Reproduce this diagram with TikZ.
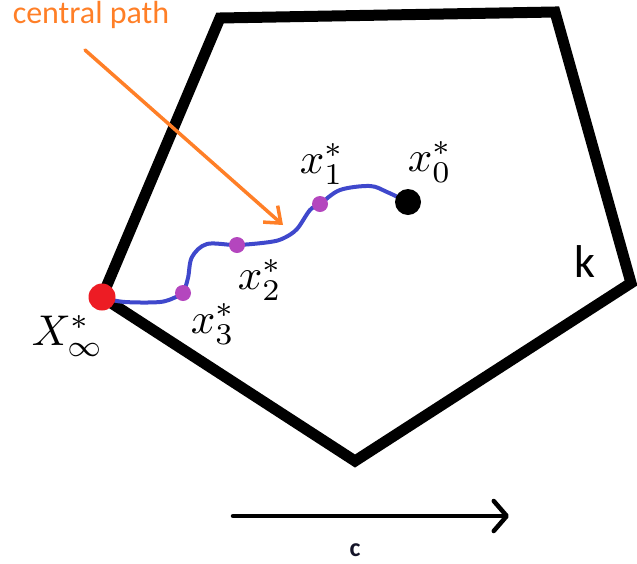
\documentclass[tikz,border=0pt]{standalone}
\usepackage{graphicx}
\usepackage{fontspec}
\setmainfont{Carlito}
\usetikzlibrary{arrows.meta}
\definecolor{corange}{RGB}{255,127,39}
\definecolor{cblue}{RGB}{63,72,204}
\definecolor{cpurple}{RGB}{180,70,190}
\definecolor{cred}{RGB}{237,28,36}
\definecolor{cdark}{RGB}{20,20,40}
\newcommand{\handlbl}[1]{\scalebox{4.3}{$#1$}}
\tikzset{
  poly/.style={line width=11pt, line join=miter, draw=black},
  dot/.style={circle, inner sep=0pt, minimum size=#1},
  hand/.style={inner sep=0pt},
}
\begin{document}
\begin{tikzpicture}[x=1pt,y=-1pt]
\useasboundingbox (0,0) rectangle (637,563);
% polygon
\coordinate (p1) at (220,18);
\coordinate (p2) at (555,12);
\coordinate (p3) at (631,283);
\coordinate (p4) at (355,461);
\coordinate (p5) at (102,297);
\draw[poly] (p1) -- (p2) -- (p3) -- (p4) -- (p5) -- cycle;
% central path
\draw[cblue, line width=4pt, line cap=round]
  plot[smooth, tension=0.55] coordinates {(102,298) (125,302) (160,302) (176,297) (183,293) (188,278) (192,257) (207,244) (237,245) (270,242) (284,238) (297,229) (310,210) (320,204) (340,190) (370,186) (387,192) (408,202)};
\node[dot=27pt, fill=cred] (xinf) at (102,297) {};
\node[dot=16pt, fill=cpurple] (x3) at (183,293) {};
\node[dot=16pt, fill=cpurple] (x2) at (237,245) {};
\node[dot=16pt, fill=cpurple] (x1) at (320,204) {};
\node[dot=26pt, fill=black] (x0) at (408,202) {};
% labels
\node[hand] (lx0) at (430,162) {\handlbl{x_0^*}};
\node[hand] (lx1) at (322,164) {\handlbl{x_1^*}};
\node[hand] (lx2) at (260,280) {\handlbl{x_2^*}};
\node[hand] (lx3) at (213,324) {\handlbl{x_3^*}};
\node[hand] (lxinf) at (68,336) {\handlbl{X_\infty^*}};
\node[font=\fontsize{46}{50}\selectfont, inner sep=0pt] (k) at (585,262) {k};
% central path label and arrow
\node[font=\fontsize{32}{36}\selectfont, text=corange, inner sep=0pt] (cp) at (91,15) {central path};
\coordinate (a0) at (85,50);
\coordinate (a1) at (283,225);
\draw[corange, line width=3.5pt, line cap=round, -{Straight Barb[length=14pt,width=22pt,line width=3.5pt]}] (a0) -- (a1);
% objective direction
\coordinate (c0) at (233,516);
\coordinate (c1) at (509,516);
\draw[black, line width=4.5pt, line cap=round, -{Straight Barb[length=13pt,width=30pt,line width=4.5pt,round]}] (c0) -- (c1);
\node[font=\fontsize{26}{30}\selectfont\bfseries, text=cdark, inner sep=0pt] (c) at (355,550) {c};
\end{tikzpicture}
\end{document}
